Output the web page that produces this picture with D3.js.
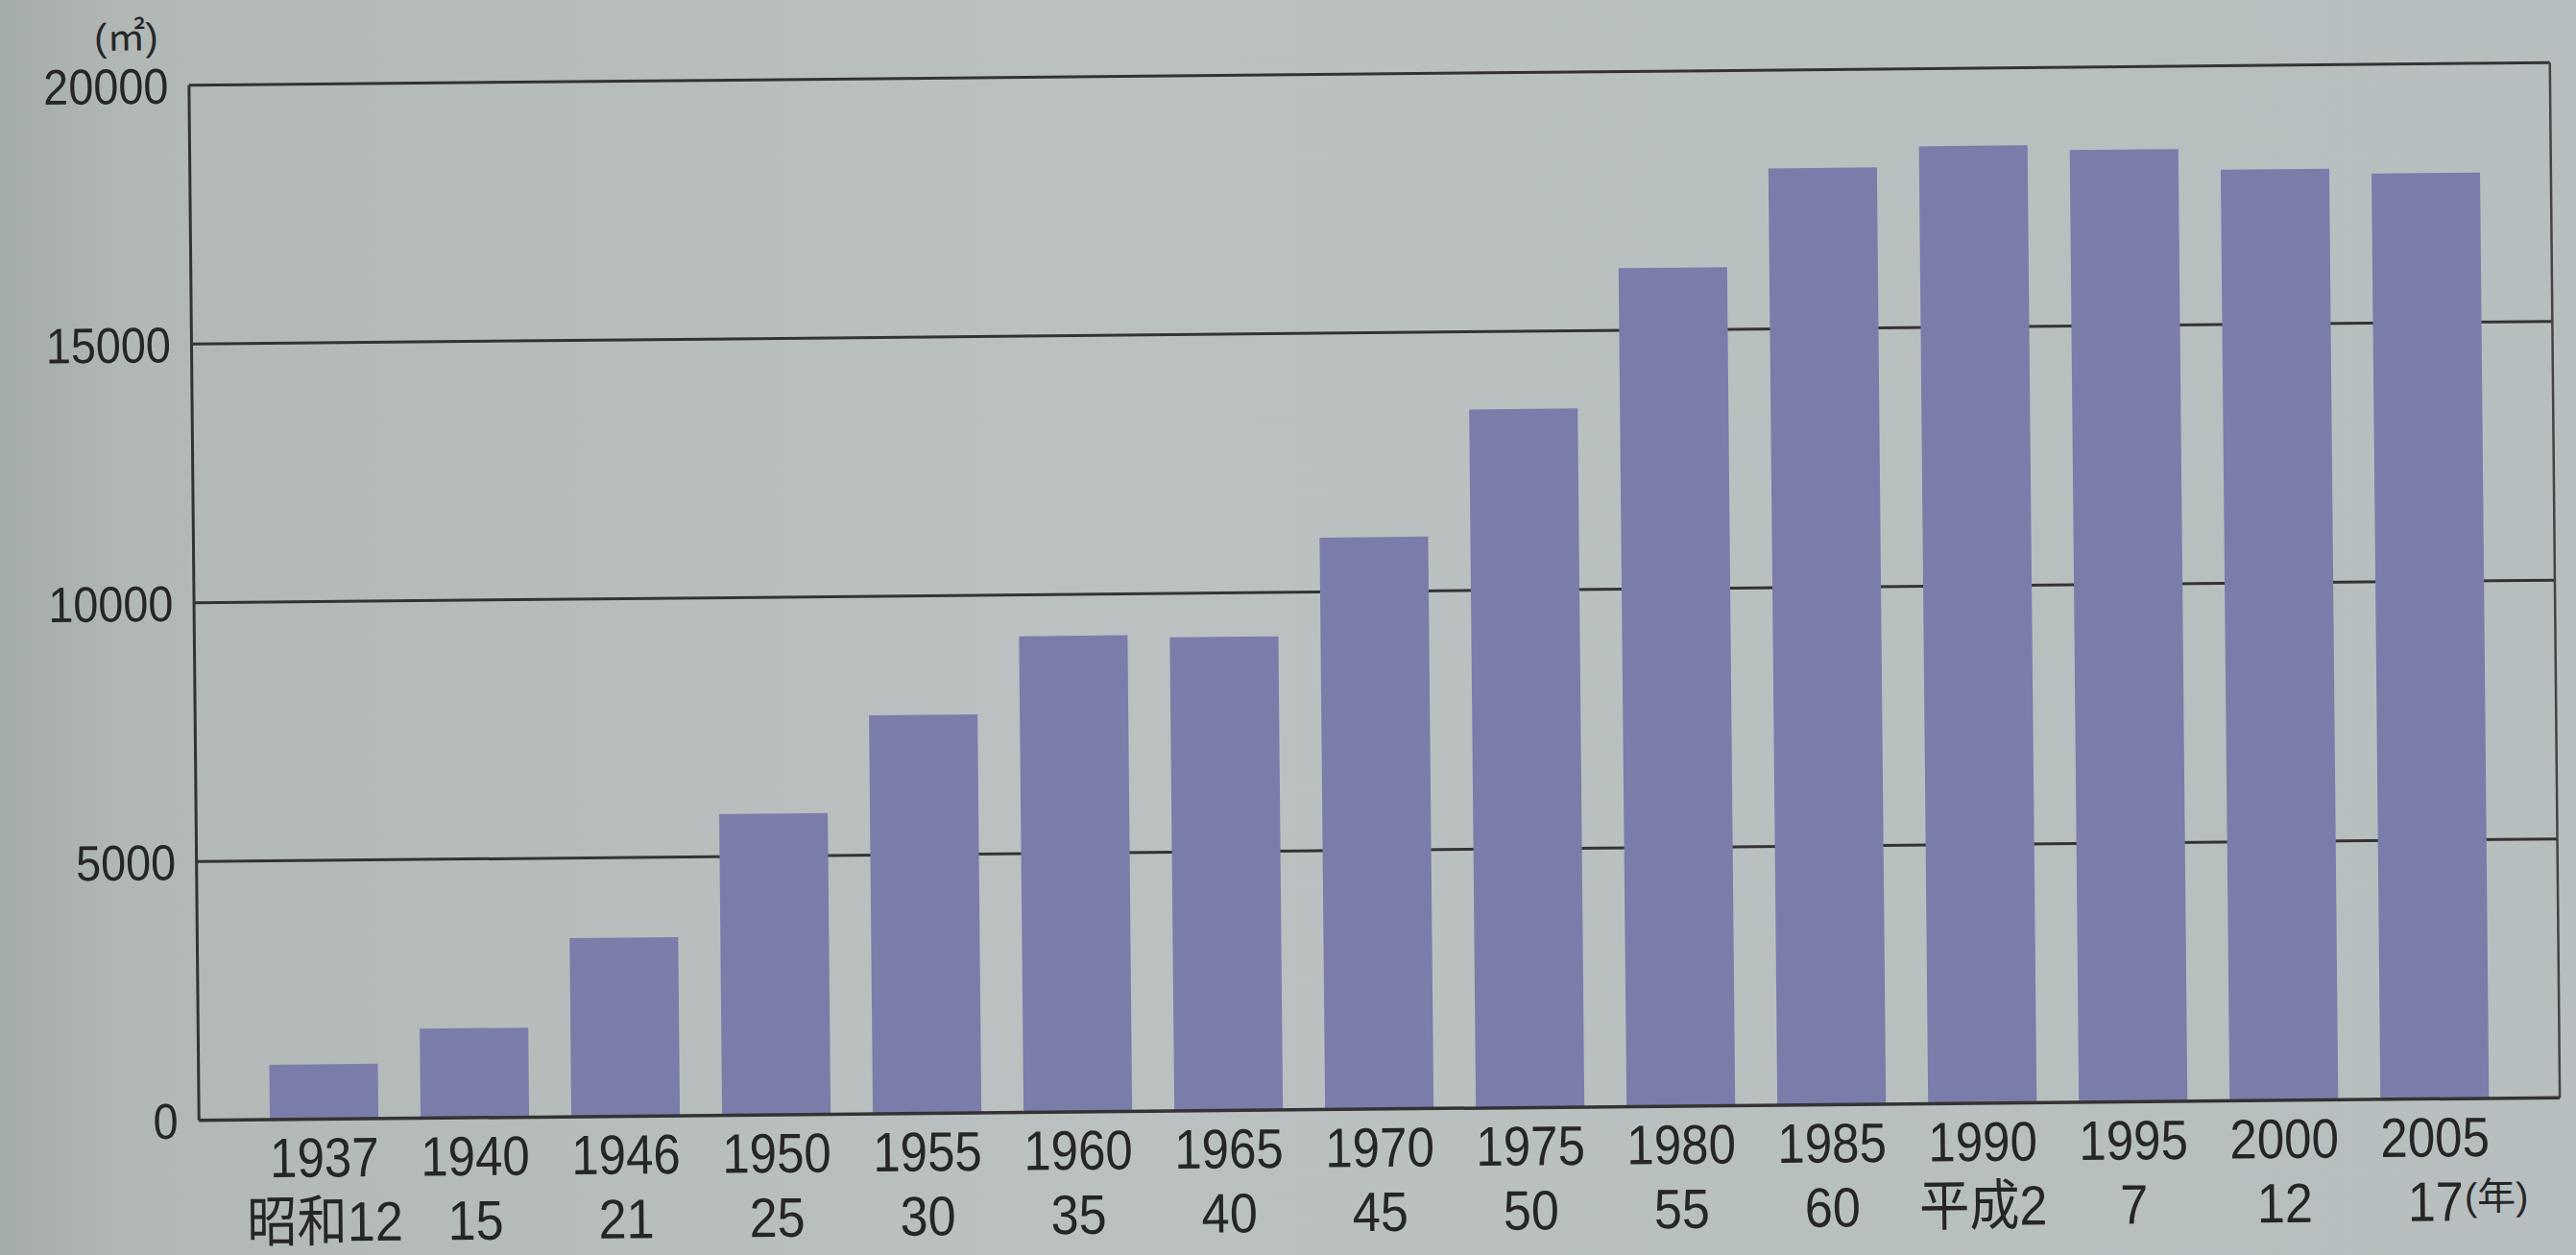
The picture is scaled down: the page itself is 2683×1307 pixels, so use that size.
<!DOCTYPE html>
<html>
<head>
<meta charset="utf-8">
<script src="https://cdn.jsdelivr.net/npm/d3@7/dist/d3.min.js"></script>
<style>
  html, body { margin: 0; padding: 0; background: #bac1c1; }
  svg { display: block; }
  text { font-family: "Liberation Sans", Arial, "Noto Sans CJK JP", sans-serif; fill: #262626; }
</style>
</head>
<body>
<svg id="chart" width="2683" height="1307"></svg>
<script>
// Floor area by survey year (㎡), Western year and Japanese era year
const years = ["1937","1940","1946","1950","1955","1960","1965","1970","1975","1980","1985","1990","1995","2000","2005"];
const eraYears = ["昭和12","15","21","25","30","35","40","45","50","55","60","平成2","7","12","17"];
const area = [1060, 1730, 3450, 5820, 7700, 9200, 9150, 11050, 13500, 16200, 18100, 18500, 18400, 17990, 17890];
const yTicks = [0, 5000, 10000, 15000, 20000];

const W = 2683, H = 1307;
const plot = { left: 202, right: 2661, top: 77, bottom: 1155 };

const svg = d3.select("#chart");

// paper background, darker toward the left edge
const defs = svg.append("defs");
const grad = defs.append("linearGradient").attr("id", "paper").attr("x1", 0).attr("x2", 1).attr("y1", 0).attr("y2", 0);
grad.append("stop").attr("offset", "0%").attr("stop-color", "#a4aca9");
grad.append("stop").attr("offset", "5%").attr("stop-color", "#b1b8b6");
grad.append("stop").attr("offset", "40%").attr("stop-color", "#bac1c0");
grad.append("stop").attr("offset", "100%").attr("stop-color", "#b7bebf");
svg.append("rect").attr("width", W).attr("height", H).attr("fill", "url(#paper)");

// the printed chart sits slightly tilted on the page
const g = svg.append("g")
  .attr("transform", `rotate(-0.55 ${(plot.left + plot.right) / 2} ${(plot.top + plot.bottom) / 2})`);

const x = d3.scaleBand()
  .domain(years)
  .range([plot.left, plot.right])
  .paddingInner(0.28)
  .paddingOuter(0.47);

const y = d3.scaleLinear()
  .domain([0, 20000])
  .range([plot.bottom, plot.top]);

// horizontal rules
g.append("g").selectAll("line")
  .data(yTicks.filter(d => d > 0))
  .join("line")
  .attr("x1", plot.left).attr("x2", plot.right)
  .attr("y1", d => y(d)).attr("y2", d => y(d))
  .attr("stroke", "#333").attr("stroke-width", 3);

// bars
g.append("g").selectAll("rect")
  .data(area)
  .join("rect")
  .attr("x", (d, i) => x(years[i]))
  .attr("width", x.bandwidth())
  .attr("y", d => y(d))
  .attr("height", d => y(0) - y(d))
  .attr("fill", "#7a7daa");

// frame: left axis, right edge, baseline
g.append("line").attr("x1", plot.left).attr("x2", plot.left).attr("y1", y(20000)).attr("y2", y(0))
  .attr("stroke", "#333").attr("stroke-width", 3);
g.append("line").attr("x1", plot.right).attr("x2", plot.right).attr("y1", y(20000)).attr("y2", y(0))
  .attr("stroke", "#444").attr("stroke-width", 2.5);
g.append("line").attr("x1", plot.left).attr("x2", plot.right).attr("y1", y(0)).attr("y2", y(0))
  .attr("stroke", "#333").attr("stroke-width", 3.5);

// y axis labels
const yAxis = g.append("g")
  .attr("transform", `translate(${plot.left},0)`)
  .call(d3.axisLeft(y).tickValues(yTicks).tickSize(0).tickPadding(24).tickFormat(d3.format("d")));
yAxis.select(".domain").remove();
yAxis.selectAll("text")
  .attr("font-size", 52)
  .attr("dy", "0.35em")
  .attr("transform", "scale(0.9,1)");

// unit
g.append("text")
  .attr("x", 137).attr("y", 40)
  .attr("text-anchor", "middle")
  .attr("font-size", 40)
  .attr("font-family", "'Noto Sans CJK JP', sans-serif")
  .text("(㎡)");

// x axis: Western years
const xAxis1 = g.append("g")
  .attr("transform", `translate(0,${plot.bottom})`)
  .call(d3.axisBottom(x).tickSize(0).tickPadding(60));
xAxis1.select(".domain").remove();
xAxis1.selectAll("text")
  .attr("font-size", 58)
  .attr("dy", 0)
  .attr("transform", "scale(0.88,1)");

// x axis: Japanese era years
const xAxis2 = g.append("g")
  .attr("transform", `translate(0,${plot.bottom})`)
  .call(d3.axisBottom(x).tickSize(0).tickPadding(127).tickFormat((d, i) => eraYears[i]));
xAxis2.select(".domain").remove();
xAxis2.selectAll("text")
  .attr("font-size", 58)
  .attr("dy", 0)
  .attr("transform", "scale(0.9,1)");

// year unit after the last label
g.append("text")
  .attr("x", x(years[years.length - 1]) + x.bandwidth() / 2 + 30)
  .attr("y", plot.bottom + 116)
  .attr("font-size", 40)
  .attr("font-family", "'Noto Sans CJK JP', sans-serif")
  .text("(年)");
</script>
</body>
</html>
